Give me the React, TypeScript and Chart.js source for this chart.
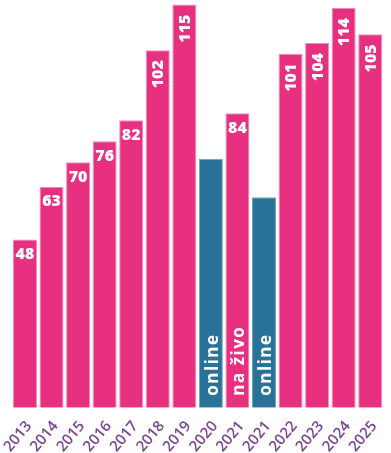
import React, { useEffect, useRef } from "react";
import { Chart, registerables } from "chart.js";

Chart.register(...registerables);

const categories = ["2013", "2014", "2015", "2016", "2017", "2018", "2019", "2020", "2021", "2021", "2022", "2023", "2024", "2025"];
const values = [48, 63, 70, 76, 82, 102, 115, 71, 84, 60, 101, 104, 114, 106.5];
const valueLabels = ["48", "63", "70", "76", "82", "102", "115", "", "84", "", "101", "104", "114", "105"];
const barNotes = ["", "", "", "", "", "", "", "online", "na živo", "online", "", "", "", ""];
const barKinds = ["live", "live", "live", "live", "live", "live", "live", "online", "live", "online", "live", "live", "live", "live"];

const PINK = "#e7307f";
const PINK_EDGE = "#f08cba";
const BLUE = "#2a7398";
const BLUE_EDGE = "#6fa3bd";
const PURPLE = "#7b4294";

const labelPlugin = {
  id: "barLabels",
  afterDatasetsDraw(chart: any) {
    const ctx = chart.ctx as CanvasRenderingContext2D;
    const meta = chart.getDatasetMeta(0);
    meta.data.forEach((bar: any, i: number) => {
      const { x, y, base } = bar.getProps(["x", "y", "base"], true);
      const txt = valueLabels[i];
      if (txt) {
        ctx.save();
        ctx.fillStyle = "#ffffff";
        ctx.font = '800 16px "Open Sans"';
        if (txt.length >= 3) {
          ctx.translate(x, y + 10);
          ctx.rotate(-Math.PI / 2);
          ctx.textAlign = "right";
          ctx.textBaseline = "middle";
          ctx.fillText(txt, 0, 1);
        } else {
          ctx.textAlign = "center";
          ctx.textBaseline = "middle";
          ctx.fillText(txt, x, y + 15);
        }
        ctx.restore();
      }
      const note = barNotes[i];
      if (note) {
        ctx.save();
        ctx.fillStyle = "#ffffff";
        ctx.font = '700 17px "Open Sans"';
        (ctx as any).letterSpacing = "1.5px";
        ctx.translate(x, base - 12);
        ctx.rotate(-Math.PI / 2);
        ctx.textAlign = "left";
        ctx.textBaseline = "middle";
        ctx.fillText(note, 0, 2);
        ctx.restore();
      }
    });
  },
};

export default function App() {
  const ref = useRef<HTMLCanvasElement | null>(null);
  useEffect(() => {
    if (!ref.current) return;
    const chart = new Chart(ref.current, {
      type: "bar",
      data: {
        labels: categories,
        datasets: [
          {
            data: values,
            backgroundColor: barKinds.map((k) => (k === "online" ? BLUE : PINK)),
            borderColor: barKinds.map((k) => (k === "online" ? BLUE_EDGE : PINK_EDGE)),
            borderWidth: 1,
            categoryPercentage: 1,
            barPercentage: 0.904,
          },
        ],
      },
      options: {
        responsive: false,
        animation: false,
        layout: { padding: { left: 11.7, right: 7.5, top: 0, bottom: 0 } },
        plugins: { legend: { display: false }, tooltip: { enabled: false } },
        scales: {
          y: { display: false, min: 0, max: 116.3 },
          x: {
            grid: { display: false },
            border: { display: false },
            ticks: {
              color: PURPLE,
              font: { family: '"Open Sans"', size: 15, weight: "600" },
              minRotation: 50,
              maxRotation: 50,
              padding: 2,
              labelOffset: 4,
              autoSkip: false,
            },
            afterFit: (scale: any) => {
              scale.height = 45.3;
              scale.paddingLeft = 0;
              scale.paddingRight = 0;
            },
          },
        },
      },
      plugins: [labelPlugin],
    });
    return () => chart.destroy();
  }, []);
  return (
    <div style={{ position: "absolute", left: 0, top: 0, width: 391, height: 453, background: "#fff" }}>
      <canvas ref={ref} width={391} height={453} style={{ display: "block" }} />
    </div>
  );
}
